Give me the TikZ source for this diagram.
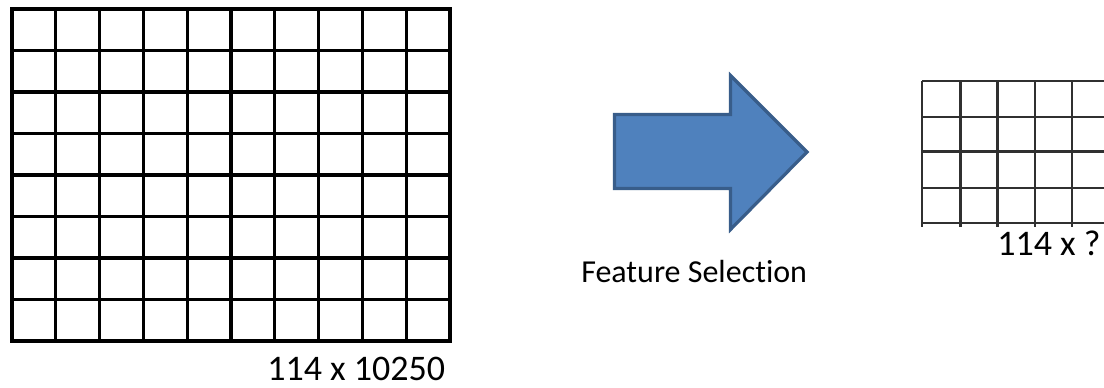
\documentclass[tikz,border=0pt]{standalone}
\usepackage{fontspec}
\setmainfont{Carlito}[Ligatures=NoCommon]
\definecolor{arrowfill}{HTML}{4F81BD}
\definecolor{arrowdraw}{HTML}{385D8A}
\definecolor{smallgrid}{HTML}{303030}
\begin{document}
\begin{tikzpicture}[x=0.75pt,y=-0.75pt,
  biggrid/.style={line width=2.4pt,black,line cap=rect},
  smallgridline/.style={line width=1.6pt,smallgrid},
  label/.style={anchor=base west,inner sep=0pt,text=black,text depth=0pt},
  blockarrow/.style={fill=arrowfill,draw=arrowdraw,line width=2.4pt,line join=miter}]
\useasboundingbox (0,0) rectangle (1104,388);
% large matrix 10 x 8
\foreach \i in {0,...,10} \draw[biggrid] ({12+43.8*\i},9) -- ({12+43.8*\i},341);
\foreach \j in {0,...,8} \draw[biggrid] (12,{9+41.5*\j}) -- (450,{9+41.5*\j});
% block arrow
\draw[blockarrow] (614.5,114.5) -- (730.5,114.5) -- (730.5,75.5) -- (807,152) -- (730.5,229.5) -- (730.5,188.5) -- (614.5,188.5) -- cycle;
% small matrix (cut at the right edge)
\foreach \x in {922,960.5,997.5,1035,1072} \draw[smallgridline] (\x,81) -- (\x,227);
\foreach \y in {81,117,151.5,188,223} \draw[smallgridline] (922,\y) -- (1104,\y);
% labels
\node[label,font=\fontsize{27}{32}\selectfont] (bigsize) at (267,381) {114 x 10250};
\node[label,font=\fontsize{24}{29}\selectfont] (fs) at (581,283) {Feature Selection};
\node[label,font=\fontsize{27}{32}\selectfont] (smallsize) at (997,256) {114 x ?};
\end{tikzpicture}
\end{document}
